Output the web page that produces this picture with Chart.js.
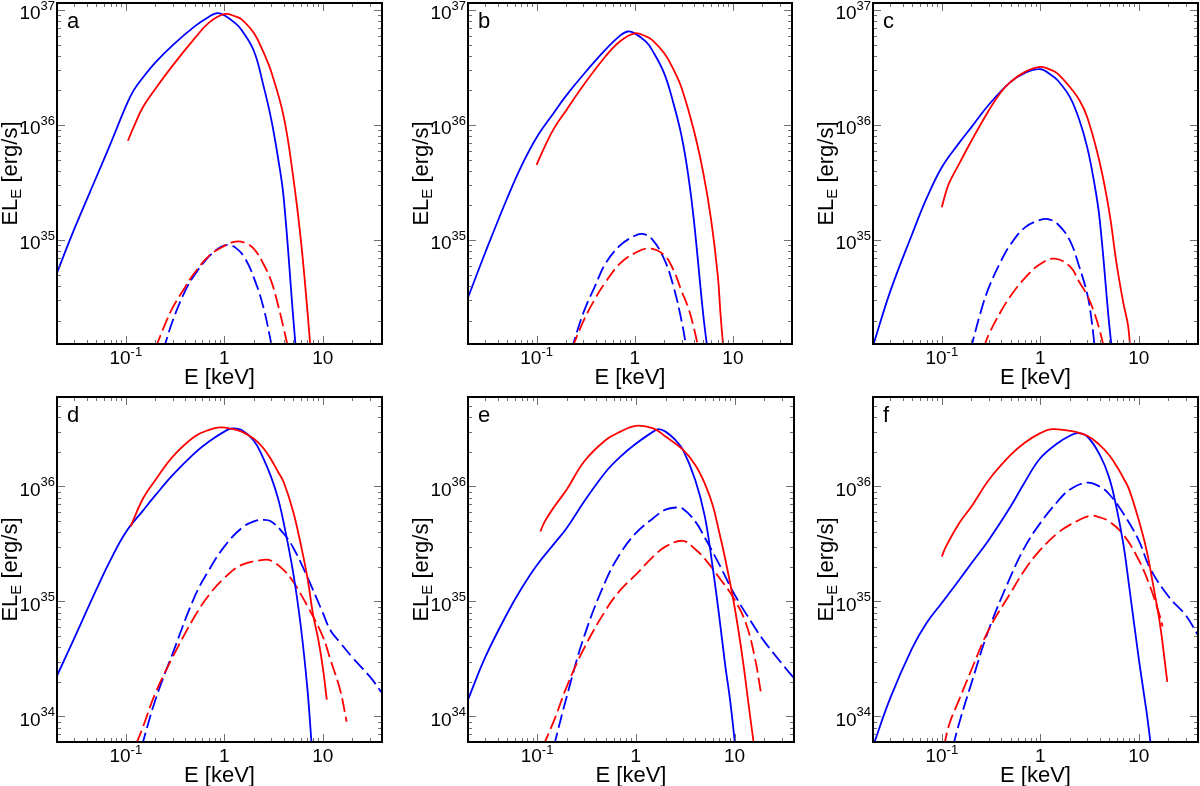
<!DOCTYPE html>
<html>
<head>
<meta charset="utf-8">
<script src="https://cdn.jsdelivr.net/npm/chart.js@4.4.1/dist/chart.umd.min.js"></script>
<style>
html,body{margin:0;padding:0;background:#fff;}
body{width:1200px;height:786px;position:relative;overflow:hidden;}
canvas{position:absolute;}
</style>
</head>
<body>
<canvas id="pa" width="400" height="393" style="left:0px;top:0px"></canvas>
<canvas id="pb" width="400" height="393" style="left:400px;top:0px"></canvas>
<canvas id="pc" width="400" height="393" style="left:800px;top:0px"></canvas>
<canvas id="pd" width="400" height="393" style="left:0px;top:393px"></canvas>
<canvas id="pe" width="400" height="393" style="left:400px;top:393px"></canvas>
<canvas id="pf" width="400" height="393" style="left:800px;top:393px"></canvas>
<script>
// ---------------- tick labels ----------------
const xTickValues = [0.1, 1, 10];
const xTickBase   = ['10', '1', '10'];
const xTickExp    = ['-1', '', ''];
const yTickExpTop = [35, 36, 37];
const yTickExpBottom = [34, 35, 36];
const panelLetters = ['a', 'b', 'c', 'd', 'e', 'f'];

// ---------------- panel a ----------------
const aBlueSolidE = [0.02, 0.03, 0.05, 0.07, 0.1, 0.12, 0.15, 0.2, 0.3, 0.5, 0.7, 0.85, 1, 1.3, 1.5, 2, 2.5, 3, 3.5, 4, 5, 5.4];
const aBlueSolidL = [5.2e34, 1.25e35, 3.5e35, 6.9e35, 1.45e36, 2.0e36, 2.6e36, 3.5e36, 4.95e36, 7.2e36, 8.75e36, 9.4e36, 9.0e36, 7.65e36, 6.7e36, 4.4e36, 2.2e36, 1.12e36, 5.3e35, 2.4e35, 2.2e34, 1.0e34];
const aRedSolidE = [0.105, 0.12, 0.15, 0.2, 0.3, 0.5, 0.7, 1, 1.3, 1.5, 2, 2.5, 3, 4, 5, 6, 7, 7.6];
const aRedSolidL = [7.3e35, 9.6e35, 1.44e36, 2.07e36, 3.3e36, 5.66e36, 7.76e36, 9.2e36, 8.8e36, 8.3e36, 6.3e36, 4.3e36, 2.9e36, 1.2e36, 3.6e35, 1.0e35, 2.4e34, 1.0e34];
const aBlueDashE = [0.24, 0.3, 0.4, 0.5, 0.7, 0.9, 1.1, 1.3, 1.6, 2, 2.5, 3.1];
const aBlueDashL = [1.1e34, 2.0e34, 3.6e34, 5.0e34, 7.2e34, 8.6e34, 9.1e34, 8.6e34, 7.1e34, 4.7e34, 2.6e34, 1.1e34];
const aRedDashE = [0.2, 0.25, 0.3, 0.4, 0.5, 0.7, 1, 1.3, 1.6, 2, 2.5, 3, 3.5, 4, 4.5];
const aRedDashL = [1.15e34, 1.85e34, 2.6e34, 3.9e34, 5.2e34, 7.3e34, 8.9e34, 9.7e34, 9.5e34, 8.4e34, 6.2e34, 4.4e34, 2.77e34, 1.73e34, 1.1e34];

// ---------------- panel b ----------------
const bBlueSolidE = [0.02, 0.03, 0.05, 0.07, 0.1, 0.15, 0.2, 0.3, 0.5, 0.7, 0.85, 1, 1.3, 1.5, 2, 2.5, 3, 3.5, 4, 5, 5.6];
const bBlueSolidL = [3.16e34, 7.8e34, 2.3e35, 4.4e35, 7.8e35, 1.28e36, 1.8e36, 2.75e36, 4.5e36, 5.93e36, 6.5e36, 6.26e36, 5.3e36, 4.5e36, 2.8e36, 1.5e36, 8.0e35, 3.7e35, 1.5e35, 2.2e34, 1.0e34];
const bRedSolidE = [0.1, 0.12, 0.15, 0.2, 0.3, 0.5, 0.7, 1, 1.3, 1.5, 2, 2.5, 3, 4, 5, 6, 7, 7.5, 8.1];
const bRedSolidL = [4.5e35, 6.4e35, 9.3e35, 1.34e36, 2.22e36, 3.92e36, 5.3e36, 6.27e36, 5.9e36, 5.5e36, 4.2e36, 3.0e36, 2.1e36, 9.0e35, 3.8e35, 1.5e35, 5.0e34, 2.2e34, 1.0e34];
const bBlueDashE = [0.225, 0.3, 0.4, 0.5, 0.7, 1, 1.2, 1.5, 2, 2.5, 3, 3.4];
const bBlueDashL = [1.1e34, 2.34e34, 4.1e34, 6.2e34, 8.9e34, 1.09e35, 1.13e35, 1.02e35, 6.8e34, 3.86e34, 1.98e34, 1.1e34];
const bRedDashE = [0.23, 0.3, 0.4, 0.5, 0.7, 1, 1.4, 2, 2.5, 3, 3.5, 4, 4.5];
const bRedDashL = [1.15e34, 1.98e34, 3.16e34, 4.27e34, 6.2e34, 7.7e34, 8.45e34, 7.4e34, 5.4e34, 3.6e34, 2.6e34, 1.73e34, 1.1e34];

// ---------------- panel c ----------------
const cBlueSolidE = [0.02, 0.03, 0.05, 0.07, 0.1, 0.15, 0.2, 0.3, 0.5, 0.7, 1, 1.3, 1.5, 2, 2.5, 3, 3.5, 4, 5, 5.5];
const cBlueSolidL = [1.2e34, 3.6e34, 1.13e35, 2.3e35, 4.3e35, 7.0e35, 9.6e35, 1.5e36, 2.37e36, 2.84e36, 3.06e36, 2.71e36, 2.45e36, 1.75e36, 1.1e36, 6.4e35, 3.3e35, 1.55e35, 1.9e34, 0.9e34];
const cRedSolidE = [0.1, 0.11, 0.12, 0.15, 0.2, 0.3, 0.4, 0.5, 0.7, 1, 1.3, 1.5, 2, 2.5, 3, 4, 5, 6, 7, 7.8, 8.3];
const cRedSolidL = [1.93e35, 2.6e35, 3.2e35, 4.6e35, 7.3e35, 1.34e36, 1.94e36, 2.37e36, 2.9e36, 3.2e36, 3.0e36, 2.8e36, 2.14e36, 1.64e36, 1.17e36, 4.8e35, 1.8e35, 6.0e34, 2.8e34, 1.8e34, 1.0e34];
const cBlueDashE = [0.195, 0.25, 0.3, 0.4, 0.5, 0.7, 1, 1.2, 1.5, 2, 2.5, 3, 3.3, 3.6];
const cBlueDashL = [1.1e34, 2.42e34, 3.86e34, 6.6e34, 9.2e34, 1.29e35, 1.5e35, 1.52e35, 1.38e35, 9.9e34, 5.8e34, 3.4e34, 2.1e34, 1.1e34];
const cRedDashE = [0.265, 0.3, 0.4, 0.5, 0.7, 1, 1.4, 2, 2.5, 3, 3.5, 4, 4.5];
const cRedDashL = [1.15e34, 1.51e34, 2.42e34, 3.27e34, 4.7e34, 6.2e34, 6.9e34, 5.9e34, 4.3e34, 3.3e34, 2.4e34, 1.66e34, 1.1e34];

// ---------------- panel d ----------------
const dBlueSolidE = [0.02, 0.03, 0.05, 0.07, 0.1, 0.15, 0.2, 0.3, 0.5, 0.7, 1, 1.2, 1.5, 2, 2.5, 3, 3.5, 4, 5, 6, 7, 7.8];
const dBlueSolidL = [2.26e34, 4.8e34, 1.26e35, 2.3e35, 4.0e35, 6.2e35, 8.4e35, 1.26e36, 1.95e36, 2.46e36, 3.0e36, 3.2e36, 3.1e36, 2.5e36, 1.75e36, 1.2e36, 8.0e35, 4.9e35, 1.8e35, 6.0e34, 1.71e34, 5.0e33];
const dRedSolidE = [0.112, 0.15, 0.2, 0.3, 0.5, 0.7, 0.9, 1.2, 1.5, 2, 2.5, 3, 3.5, 4, 5, 6, 7, 8, 9, 10, 11];
const dRedSolidL = [4.5e35, 7.9e35, 1.14e36, 1.82e36, 2.72e36, 3.11e36, 3.26e36, 3.17e36, 3.0e36, 2.6e36, 2.15e36, 1.71e36, 1.35e36, 1.1e36, 6.1e35, 3.1e35, 1.6e35, 7.6e34, 4.7e34, 2.7e34, 1.4e34];
const dBlueDashE = [0.145, 0.2, 0.3, 0.5, 0.7, 1, 1.5, 2, 2.5, 3, 4, 5, 7, 10, 12, 15, 20, 30, 40];
const dBlueDashL = [5.5e33, 1.4e34, 3.56e34, 1.1e35, 1.88e35, 3.0e35, 4.35e35, 4.97e35, 5.13e35, 4.97e35, 3.9e35, 2.95e35, 1.62e35, 8.0e34, 5.6e34, 4.4e34, 3.26e34, 2.23e34, 1.6e34];
const dRedDashE = [0.128, 0.15, 0.2, 0.3, 0.5, 0.7, 1, 1.5, 2.5, 3, 4, 5, 7, 10, 12, 15, 17.5];
const dRedDashL = [5.8e33, 8.2e33, 1.6e34, 3.3e34, 7.4e34, 1.14e35, 1.6e35, 2.08e35, 2.3e35, 2.26e35, 1.88e35, 1.49e35, 9.1e34, 4.97e34, 3.1e34, 1.71e34, 9.0e33];

// ---------------- panel e ----------------
const eBlueSolidE = [0.02, 0.03, 0.05, 0.07, 0.1, 0.15, 0.2, 0.3, 0.5, 0.7, 1, 1.5, 1.7, 2, 2.5, 3, 4, 5, 6, 7, 8, 9, 10.3];
const eBlueSolidL = [1.4e34, 3.3e34, 7.9e34, 1.31e35, 2.08e35, 3.2e35, 4.35e35, 7.4e35, 1.35e36, 1.82e36, 2.35e36, 3.0e36, 3.15e36, 3.0e36, 2.55e36, 2.09e36, 1.14e36, 5.5e35, 2.0e35, 7.4e34, 2.9e34, 1.4e34, 5.0e33];
const eRedSolidE = [0.108, 0.12, 0.15, 0.2, 0.3, 0.5, 0.7, 1, 1.5, 2, 3, 4, 5, 6, 7, 8, 10, 12, 14, 16];
const eRedSolidL = [4.06e35, 4.97e35, 6.7e35, 9.4e35, 1.65e36, 2.55e36, 3.0e36, 3.37e36, 3.2e36, 2.72e36, 2.09e36, 1.54e36, 1.06e36, 6.9e35, 4.0e35, 2.4e35, 9.0e34, 3.3e34, 1.2e34, 5.0e33];
const eBlueDashE = [0.148, 0.2, 0.3, 0.5, 0.7, 1, 1.5, 2, 2.6, 3, 4, 5, 7, 10, 15, 20, 30, 40];
const eBlueDashL = [5.5e33, 1.49e34, 4.97e34, 1.54e35, 2.63e35, 3.93e35, 5.3e35, 6.3e35, 6.57e35, 6.4e35, 4.97e35, 3.6e35, 2.1e35, 1.15e35, 6.5e34, 4.5e34, 2.9e34, 2.15e34];
const eRedDashE = [0.115, 0.15, 0.2, 0.3, 0.5, 0.7, 1, 1.5, 2, 3, 4, 5, 7, 10, 13, 16, 18.4];
const eRedDashL = [5.5e33, 9.4e33, 1.82e34, 3.93e34, 8.5e34, 1.26e35, 1.71e35, 2.46e35, 3.0e35, 3.37e35, 2.85e35, 2.35e35, 1.61e35, 1.04e35, 6.5e34, 3.3e34, 1.65e34];

// ---------------- panel f ----------------
const fBlueSolidE = [0.02, 0.03, 0.05, 0.07, 0.1, 0.15, 0.2, 0.3, 0.5, 0.7, 1, 1.5, 2, 2.4, 3, 4, 5, 6, 7, 8, 10, 12, 13.5];
const fBlueSolidL = [5.5e33, 1.45e34, 3.93e34, 6.5e34, 9.7e34, 1.54e35, 2.15e35, 3.43e35, 6.7e35, 1.1e36, 1.76e36, 2.38e36, 2.76e36, 2.91e36, 2.72e36, 1.9e36, 1.2e36, 6.3e35, 3.1e35, 1.35e35, 3.2e34, 1.1e34, 5.0e33];
const fRedSolidE = [0.1, 0.11, 0.15, 0.2, 0.3, 0.5, 0.7, 1, 1.3, 2, 3, 4, 5, 6, 7, 8, 10, 12, 14, 16, 17, 18, 19.5];
const fRedSolidL = [2.46e35, 3.0e35, 4.8e35, 6.7e35, 1.14e36, 1.88e36, 2.41e36, 2.91e36, 3.15e36, 3.05e36, 2.76e36, 2.3e36, 1.88e36, 1.49e36, 1.18e36, 9.4e35, 5.1e35, 2.81e35, 1.4e35, 7.4e34, 5.2e34, 3.5e34, 2.0e34];
const fBlueDashE = [0.13, 0.15, 0.2, 0.3, 0.5, 0.7, 1, 1.5, 2, 3, 4, 5, 7, 10, 13, 20, 30, 40];
const fBlueDashL = [5.5e33, 8.75e33, 1.95e34, 5.7e34, 1.65e35, 3.0e35, 4.8e35, 7.4e35, 9.4e35, 1.08e36, 1.0e36, 8.6e35, 5.8e35, 3.4e35, 1.95e35, 1.11e35, 7.6e34, 5.1e34];
const fRedDashE = [0.105, 0.12, 0.15, 0.2, 0.3, 0.5, 0.7, 1, 1.5, 2, 3.2, 4, 5, 7, 10, 13, 16, 17.5];
const fRedDashL = [5.5e33, 8.75e33, 1.4e34, 2.55e34, 5.7e34, 1.19e35, 1.9e35, 2.81e35, 3.93e35, 4.64e35, 5.56e35, 5.4e35, 4.97e35, 3.8e35, 2.3e35, 1.36e35, 7.96e34, 6.07e34];

// ---------------- drawing helpers ----------------
const FONT = '"Liberation Sans", Arial, Helvetica, sans-serif';
const BLUE = '#0000ff';
const RED = '#ff0000';

function pts(E, L) { return E.map((e, i) => ({ x: e, y: L[i] })); }

function tickVals(min, max) {
  const out = [];
  const d0 = Math.floor(Math.log10(min)), d1 = Math.ceil(Math.log10(max));
  for (let d = d0; d <= d1; d++) {
    for (let m = 1; m <= 9; m++) {
      const v = m * Math.pow(10, d);
      if (v >= min * 0.9999 && v <= max * 1.0001) out.push({ v: v, major: m === 1 });
    }
  }
  return out;
}

function drawPow(ctx, base, exp, x, y, align, bs, es, rise) {
  ctx.font = bs + 'px ' + FONT;
  const wb = ctx.measureText(base).width;
  ctx.font = es + 'px ' + FONT;
  const we = exp ? ctx.measureText(exp).width : 0;
  const tot = wb + we;
  const x0 = align === 'right' ? x - tot : (align === 'center' ? x - tot / 2 : x);
  ctx.textAlign = 'left';
  ctx.textBaseline = 'middle';
  ctx.font = bs + 'px ' + FONT;
  ctx.fillText(base, x0, y);
  if (exp) {
    ctx.font = es + 'px ' + FONT;
    ctx.fillText(exp, x0 + wb, y - rise);
  }
}

const framePlugin = {
  id: 'frame',
  afterDraw(chart, args, opts) {
    const ctx = chart.ctx;
    const ca = chart.chartArea;
    const xs = chart.scales.x, ys = chart.scales.y;
    ctx.save();
    // inward ticks on all four sides
    ctx.strokeStyle = '#707070';
    ctx.lineWidth = 1;
    ctx.beginPath();
    tickVals(xs.min, xs.max).forEach(t => {
      const p = Math.round(xs.getPixelForValue(t.v)) + 0.5;
      const len = t.major ? 8 : 4;
      ctx.moveTo(p, ca.bottom); ctx.lineTo(p, ca.bottom - len);
      ctx.moveTo(p, ca.top); ctx.lineTo(p, ca.top + len);
    });
    tickVals(ys.min, ys.max).forEach(t => {
      const p = Math.round(ys.getPixelForValue(t.v)) + 0.5;
      const len = t.major ? 8 : 4;
      ctx.moveTo(ca.left, p); ctx.lineTo(ca.left + len, p);
      ctx.moveTo(ca.right, p); ctx.lineTo(ca.right - len, p);
    });
    ctx.stroke();
    // frame
    ctx.strokeStyle = '#000';
    ctx.lineWidth = 2;
    ctx.strokeRect(ca.left, ca.top, ca.right - ca.left, ca.bottom - ca.top);
    // tick labels
    ctx.fillStyle = '#000';
    xTickValues.forEach((v, i) => {
      const p = xs.getPixelForValue(v);
      drawPow(ctx, xTickBase[i], xTickExp[i], p, ca.bottom + 15, 'center', 19, 13, 7);
    });
    opts.yExps.forEach(n => {
      const p = ys.getPixelForValue(Math.pow(10, n));
      drawPow(ctx, '10', String(n), ca.left - 2, p + 4, 'right', 19, 13, 8);
    });
    // x title
    ctx.font = '22px ' + FONT;
    ctx.textAlign = 'center';
    ctx.textBaseline = 'middle';
    ctx.fillText('E [keV]', (ca.left + ca.right) / 2, ca.bottom + 34);
    // y title (rotated, with subscript)
    ctx.save();
    ctx.translate(ca.left - 46, (ca.top + ca.bottom) / 2);
    ctx.rotate(-Math.PI / 2);
    ctx.textAlign = 'left';
    ctx.textBaseline = 'middle';
    ctx.font = '22px ' + FONT;
    const w1 = ctx.measureText('EL').width;
    const w3 = ctx.measureText(' [erg/s]').width;
    ctx.font = '15px ' + FONT;
    const w2 = ctx.measureText('E').width;
    let x0 = -(w1 + w2 + w3) / 2;
    ctx.font = '22px ' + FONT;
    ctx.fillText('EL', x0, 0);
    ctx.font = '15px ' + FONT;
    ctx.fillText('E', x0 + w1, 6);
    ctx.font = '22px ' + FONT;
    ctx.fillText(' [erg/s]', x0 + w1 + w2, 0);
    ctx.restore();
    // panel letter
    ctx.font = '22px ' + FONT;
    ctx.textAlign = 'left';
    ctx.textBaseline = 'alphabetic';
    ctx.fillText(opts.letter, ca.left + 10, ca.top + 25);
    ctx.restore();
  }
};

function ds(E, L, color, dashed) {
  return {
    data: pts(E, L),
    borderColor: color,
    borderWidth: 1.8,
    borderDash: dashed ? [14, 5] : [],
    pointRadius: 0,
    fill: false,
    tension: 0.4,
    clip: 0
  };
}

function makePanel(id, letter, lay, yMin, yMax, yExps, sets) {
  new Chart(document.getElementById(id), {
    type: 'line',
    data: { datasets: sets },
    options: {
      responsive: false,
      animation: false,
      devicePixelRatio: 1,
      layout: { padding: { top: lay.T, right: lay.R, left: 0, bottom: 0 } },
      plugins: { legend: { display: false }, tooltip: { enabled: false }, frame: { letter: letter, yExps: yExps } },
      events: [],
      scales: {
        x: {
          type: 'logarithmic', min: 0.02, max: 40,
          grid: { display: false }, border: { display: false },
          ticks: { display: false },
          afterFit(s) { s.height = lay.B; }
        },
        y: {
          type: 'logarithmic', min: yMin, max: yMax,
          grid: { display: false }, border: { display: false },
          ticks: { display: false },
          afterFit(s) { s.width = lay.L; }
        }
      }
    },
    plugins: [framePlugin]
  });
}

makePanel('pa', panelLetters[0], { L: 57, T: 3, R: 18, B: 49 }, 1.25e34, 1.15e37, yTickExpTop, [
  ds(aRedSolidE, aRedSolidL, RED, false), ds(aBlueSolidE, aBlueSolidL, BLUE, false),
  ds(aRedDashE, aRedDashL, RED, true), ds(aBlueDashE, aBlueDashL, BLUE, true)
]);
makePanel('pb', panelLetters[1], { L: 68, T: 3, R: 8, B: 49 }, 1.25e34, 1.15e37, yTickExpTop, [
  ds(bRedSolidE, bRedSolidL, RED, false), ds(bBlueSolidE, bBlueSolidL, BLUE, false),
  ds(bRedDashE, bRedDashL, RED, true), ds(bBlueDashE, bBlueDashL, BLUE, true)
]);
makePanel('pc', panelLetters[2], { L: 73, T: 3, R: 2, B: 49 }, 1.25e34, 1.15e37, yTickExpTop, [
  ds(cRedSolidE, cRedSolidL, RED, false), ds(cBlueSolidE, cBlueSolidL, BLUE, false),
  ds(cRedDashE, cRedDashL, RED, true), ds(cBlueDashE, cBlueDashL, BLUE, true)
]);
makePanel('pd', panelLetters[3], { L: 57, T: 4, R: 18, B: 44 }, 6e33, 6e36, yTickExpBottom, [
  ds(dRedSolidE, dRedSolidL, RED, false), ds(dBlueSolidE, dBlueSolidL, BLUE, false),
  ds(dRedDashE, dRedDashL, RED, true), ds(dBlueDashE, dBlueDashL, BLUE, true)
]);
makePanel('pe', panelLetters[4], { L: 68, T: 4, R: 6, B: 44 }, 6e33, 6e36, yTickExpBottom, [
  ds(eRedSolidE, eRedSolidL, RED, false), ds(eBlueSolidE, eBlueSolidL, BLUE, false),
  ds(eRedDashE, eRedDashL, RED, true), ds(eBlueDashE, eBlueDashL, BLUE, true)
]);
makePanel('pf', panelLetters[5], { L: 73, T: 4, R: 2, B: 44 }, 6e33, 6e36, yTickExpBottom, [
  ds(fRedSolidE, fRedSolidL, RED, false), ds(fBlueSolidE, fBlueSolidL, BLUE, false),
  ds(fRedDashE, fRedDashL, RED, true), ds(fBlueDashE, fBlueDashL, BLUE, true)
]);
</script>
</body>
</html>
